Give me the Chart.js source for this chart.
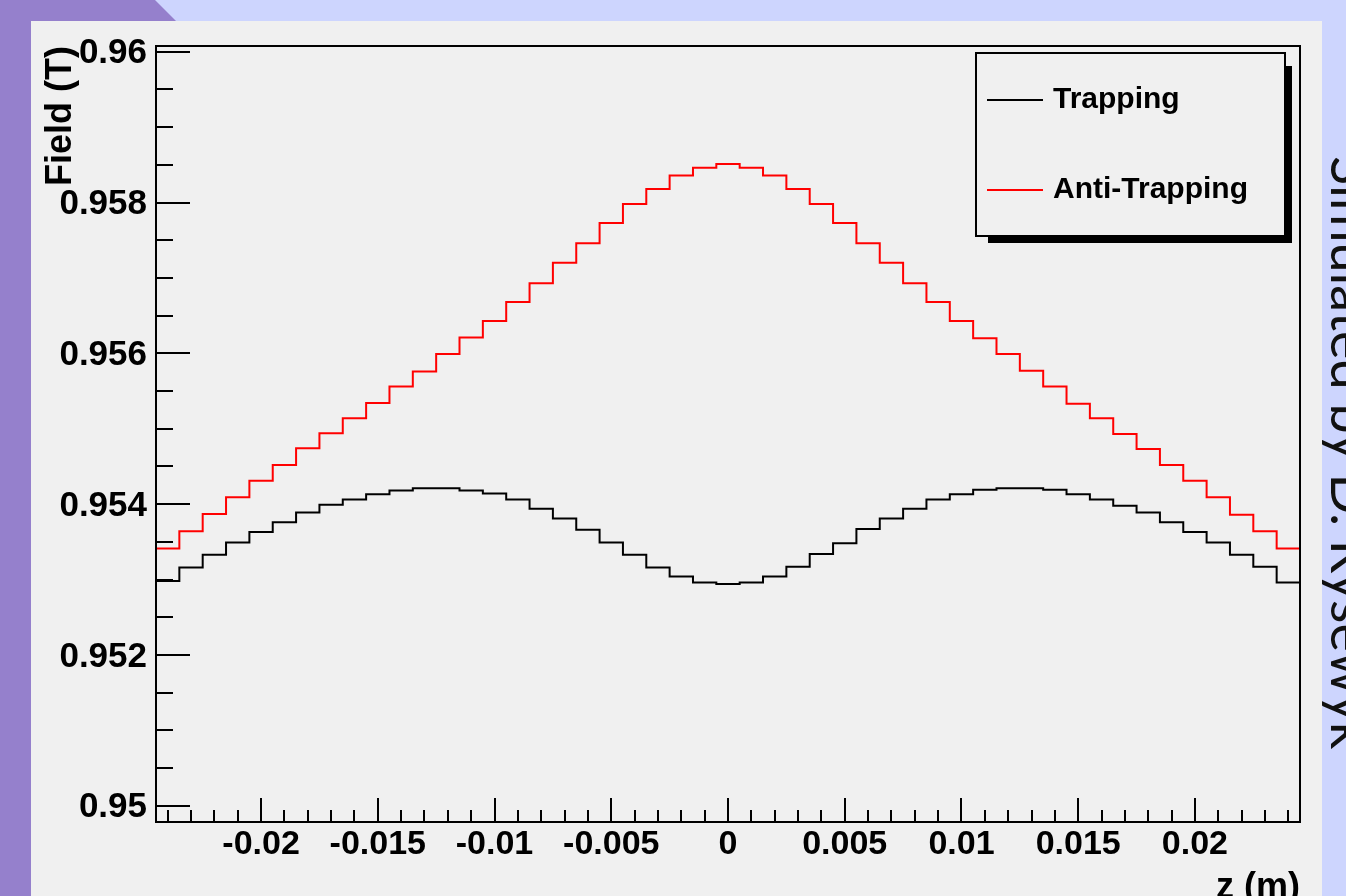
<!DOCTYPE html>
<html>
<head>
<meta charset="utf-8">
<title>Field along z</title>
<script src="https://cdn.jsdelivr.net/npm/chart.js@4.4.1/dist/chart.umd.min.js"></script>
<style>
  html, body { margin: 0; padding: 0; }
  body { width: 1346px; height: 896px; overflow: hidden; background: #cdd5fe; position: relative; }
  .band-left { position: absolute; left: 0; top: 0; width: 31px; height: 896px; background: #9580cc; }
  .band-top { position: absolute; left: 0; top: 0; width: 176px; height: 21px; background: #9580cc;
              clip-path: polygon(0 0, 155px 0, 176px 21px, 0 21px); }
  .panel { position: absolute; left: 31px; top: 21px; width: 1291px; height: 875px; background: #f0f0f0; overflow: hidden; }
  .panel canvas { position: absolute; left: 0; top: 0; }
  .credit { position: absolute; left: 1378px; top: 156px; transform-origin: 0 0; transform: rotate(90deg);
            font-family: Lato, "Open Sans", sans-serif; font-size: 54px; line-height: 1; white-space: nowrap; color: #111; }
</style>
</head>
<body>
<div class="band-left"></div>
<div class="band-top"></div>
<div class="panel"><canvas id="chart" width="1291" height="905" style="width:1291px;height:905px"></canvas></div>
<div class="credit">Simulated by D. Rysewyk</div>
<script>
// Bin centres along z (m), 1 mm bins
const binCenters = [
  -0.024, -0.023, -0.022, -0.021, -0.020, -0.019, -0.018, -0.017, -0.016, -0.015,
  -0.014, -0.013, -0.012, -0.011, -0.010, -0.009, -0.008, -0.007, -0.006, -0.005,
  -0.004, -0.003, -0.002, -0.001, 0.000, 0.001, 0.002, 0.003, 0.004, 0.005,
  0.006, 0.007, 0.008, 0.009, 0.010, 0.011, 0.012, 0.013, 0.014, 0.015,
  0.016, 0.017, 0.018, 0.019, 0.020, 0.021, 0.022, 0.023, 0.024
];

// Field (T) per bin, trapping configuration
const trapping = [
  0.95298, 0.95316, 0.95333, 0.95349, 0.95363, 0.95376, 0.95389, 0.95399, 0.95406, 0.95413,
  0.95418, 0.95421, 0.95421, 0.95418, 0.95414, 0.95406, 0.95394, 0.95381, 0.95366, 0.95349,
  0.95333, 0.95316, 0.95304, 0.95296, 0.95294, 0.95296, 0.95304, 0.95317, 0.95334, 0.95348,
  0.95367, 0.95381, 0.95394, 0.95406, 0.95413, 0.95419, 0.95421, 0.95421, 0.95419, 0.95413,
  0.95406, 0.95398, 0.95389, 0.95376, 0.95363, 0.95349, 0.95333, 0.95317, 0.95296
];

// Field (T) per bin, anti-trapping configuration
const antiTrapping = [
  0.95341, 0.95364, 0.95387, 0.95409, 0.95431, 0.95452, 0.95474, 0.95494, 0.95514, 0.95534,
  0.95556, 0.95576, 0.95599, 0.95621, 0.95643, 0.95668, 0.95693, 0.95720, 0.95746, 0.95773,
  0.95798, 0.95818, 0.95836, 0.95846, 0.95851, 0.95846, 0.95836, 0.95818, 0.95798, 0.95773,
  0.95746, 0.95720, 0.95693, 0.95668, 0.95643, 0.95620, 0.95599, 0.95577, 0.95556, 0.95533,
  0.95514, 0.95493, 0.95473, 0.95452, 0.95431, 0.95409, 0.95386, 0.95364, 0.95341
];

const seriesNames = ['Trapping', 'Anti-Trapping'];

const xTickValues = [-0.02, -0.015, -0.01, -0.005, 0, 0.005, 0.01, 0.015, 0.02];
const xTickLabels = ['-0.02', '-0.015', '-0.01', '-0.005', '0', '0.005', '0.01', '0.015', '0.02'];
const yTickValues = [0.95, 0.952, 0.954, 0.956, 0.958, 0.96];
const yTickLabels = ['0.95', '0.952', '0.954', '0.956', '0.958', '0.96'];

const xRange = [-0.0245, 0.0245];
const yRange = [0.949784, 0.960076];

// Turn per-bin values into histogram outline points (bin edges, step-before)
function histogramPoints(centers, values) {
  const w = centers[1] - centers[0];
  const pts = centers.map((c, i) => ({ x: c - w / 2, y: values[i] }));
  pts.push({ x: centers[centers.length - 1] + w / 2, y: values[values.length - 1] });
  return pts;
}

function subdivisions(majors, n, min, max) {
  const step = (majors[1] - majors[0]) / n;
  const out = [];
  for (let v = majors[0]; v >= min - 1e-12; v -= step) out.push(v);
  for (let v = majors[0] + step; v <= max + 1e-12; v += step) out.push(v);
  return out;
}

const FONT = '"Liberation Sans", Arial, Helvetica, sans-serif';
Chart.defaults.font.family = FONT;
Chart.defaults.color = '#000';

// ROOT-style frame with inward tick marks
const frameTicks = {
  id: 'frameTicks',
  afterDatasetsDraw(chart) {
    const { ctx, chartArea: a, scales: { x, y } } = chart;
    ctx.save();
    ctx.strokeStyle = '#000';
    ctx.lineWidth = 2;
    ctx.beginPath();
    const yMinor = subdivisions(yTickValues, 4, yRange[0], yRange[1]);
    yMinor.forEach(v => { const p = Math.round(y.getPixelForValue(v)); ctx.moveTo(a.left, p); ctx.lineTo(a.left + 17, p); });
    yTickValues.forEach(v => { const p = Math.round(y.getPixelForValue(v)); ctx.moveTo(a.left, p); ctx.lineTo(a.left + 34, p); });
    const xMinor = subdivisions(xTickValues, 5, xRange[0], xRange[1]);
    xMinor.forEach(v => { const p = Math.round(x.getPixelForValue(v)); ctx.moveTo(p, a.bottom); ctx.lineTo(p, a.bottom - 12); });
    xTickValues.forEach(v => { const p = Math.round(x.getPixelForValue(v)); ctx.moveTo(p, a.bottom); ctx.lineTo(p, a.bottom - 24); });
    ctx.stroke();
    ctx.strokeRect(Math.round(a.left), Math.round(a.top), Math.round(a.right - a.left), Math.round(a.bottom - a.top));
    ctx.restore();
  }
};

// Boxed legend with a drop shadow, filled from the datasets
const boxLegend = {
  id: 'boxLegend',
  afterDraw(chart) {
    const { ctx, chartArea: a } = chart;
    const left = a.right - 324, top = a.top + 7, w = 309, h = 183;
    ctx.save();
    ctx.fillStyle = '#000';
    ctx.fillRect(left + 12, top + 13, w + 7 - 12, h + 7 - 13);
    ctx.fillStyle = '#f0f0f0';
    ctx.fillRect(left, top, w, h);
    ctx.strokeStyle = '#000';
    ctx.lineWidth = 2;
    ctx.strokeRect(left, top, w, h);
    ctx.font = 'bold 30px ' + FONT;
    ctx.textBaseline = 'alphabetic';
    chart.data.datasets.forEach((ds, i) => {
      const ly = top + 47 + i * 90;
      ctx.strokeStyle = ds.borderColor;
      ctx.lineWidth = 2;
      ctx.beginPath();
      ctx.moveTo(left + 11, ly);
      ctx.lineTo(left + 67, ly);
      ctx.stroke();
      ctx.fillStyle = '#000';
      ctx.fillText(ds.label, left + 77, ly + 8);
    });
    ctx.restore();
  }
};

new Chart(document.getElementById('chart'), {
  type: 'line',
  data: {
    datasets: [
      { label: seriesNames[0], data: histogramPoints(binCenters, trapping), borderColor: '#000000', borderWidth: 2, pointRadius: 0, stepped: 'before', fill: false },
      { label: seriesNames[1], data: histogramPoints(binCenters, antiTrapping), borderColor: '#ff0000', borderWidth: 2, pointRadius: 0, stepped: 'before', fill: false }
    ]
  },
  options: {
    responsive: false,
    animation: false,
    devicePixelRatio: 1,
    layout: { padding: { top: 25, right: 22, left: 0, bottom: 0 } },
    plugins: { legend: { display: false }, tooltip: { enabled: false } },
    scales: {
      x: {
        type: 'linear',
        min: xRange[0], max: xRange[1],
        grid: { display: false, drawTicks: false },
        border: { display: false },
        afterBuildTicks: s => { s.ticks = xTickValues.map(value => ({ value })); },
        afterFit: s => { s.height = 104; s.paddingLeft = 0; s.paddingRight = 0; },
        ticks: { autoSkip: false, maxRotation: 0, padding: 2, font: { size: 34, weight: 'bold' },
                 callback: (v, i) => xTickLabels[i] },
        title: { display: true, text: 'z (m)', align: 'end', font: { size: 36, weight: 'bold' }, padding: { top: 0, bottom: 16 } }
      },
      y: {
        type: 'linear',
        min: yRange[0], max: yRange[1],
        grid: { display: false, drawTicks: false },
        border: { display: false },
        afterBuildTicks: s => { s.ticks = yTickValues.map(value => ({ value })); },
        afterFit: s => { s.width = 125; s.paddingTop = 0; s.paddingBottom = 0; },
        ticks: { autoSkip: false, padding: 9, labelOffset: 2, font: { size: 35, weight: 'bold' },
                 callback: (v, i) => yTickLabels[i] },
        title: { display: true, text: 'Field (T)', align: 'end', font: { size: 36, weight: 'bold' }, padding: { top: 8.5, bottom: 0 } }
      }
    }
  },
  plugins: [frameTicks, boxLegend]
});
</script>
</body>
</html>
